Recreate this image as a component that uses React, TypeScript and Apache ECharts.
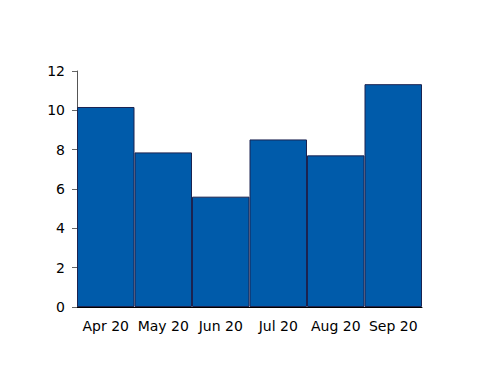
import React, { useEffect, useRef } from "react";
import * as echarts from "echarts";

const categories = ["Apr 20", "May 20", "Jun 20", "Jul 20", "Aug 20", "Sep 20"];
const values = [10.17, 7.86, 5.61, 8.52, 7.71, 11.33];
const yTicks = { min: 0, max: 12, interval: 2 };

export default function App() {
  const ref = useRef<HTMLDivElement>(null);
  useEffect(() => {
    if (!ref.current) return;
    const chart = echarts.init(ref.current, null, { renderer: "svg" });
    chart.setOption({
      animation: false,
      grid: { left: 77, right: 78, top: 71, bottom: 79 },
      xAxis: {
        type: "category",
        data: categories,
        boundaryGap: true,
        axisLine: { show: true, lineStyle: { color: "#000", width: 1 } },
        axisTick: { show: false },
        axisLabel: { color: "#000", fontFamily: "DejaVu Sans", fontSize: 14, margin: 12, interval: 0 },
      },
      yAxis: {
        type: "value",
        min: yTicks.min,
        max: yTicks.max,
        interval: yTicks.interval,
        splitLine: { show: false },
        axisLine: { show: true, lineStyle: { color: "#555", width: 1 } },
        axisTick: { show: true, length: 5, lineStyle: { color: "#666" } },
        axisLabel: { color: "#000", fontFamily: "DejaVu Sans", fontSize: 14, margin: 12 },
      },
      series: [
        {
          type: "bar",
          data: values,
          barCategoryGap: "0%",
          itemStyle: { color: "#005BAA", borderColor: "#1b2350", borderWidth: 1 },
        },
      ],
    });
    return () => chart.dispose();
  }, []);
  return <div ref={ref} style={{ position: "absolute", left: 0, top: 0, width: 500, height: 386 }} />;
}
